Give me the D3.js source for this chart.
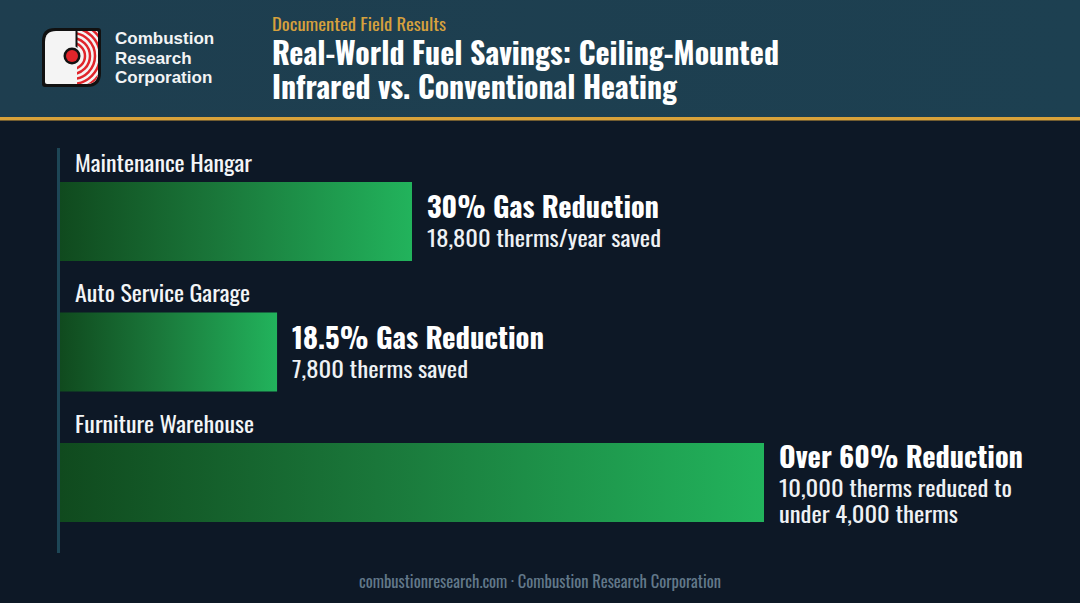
<!DOCTYPE html>
<html><head><meta charset="utf-8">
<script src="https://cdn.jsdelivr.net/npm/d3@7"></script>
<style>
html,body{margin:0;padding:0;background:#0d1826;}
svg{display:block;}
</style></head>
<body>
<svg id="chart" width="1080" height="603"></svg>
<script>
// ---- data ----
const categories = ["Maintenance Hangar", "Auto Service Garage", "Furniture Warehouse"];
const reductionPct = [30, 18.5, 60];
const headlines = ["30% Gas Reduction", "18.5% Gas Reduction", "Over 60% Reduction"];
const details = [
  ["18,800 therms/year saved"],
  ["7,800 therms saved"],
  ["10,000 therms reduced to", "under 4,000 therms"]
];
const companyLines = ["Combustion", "Research", "Corporation"];
const kicker = "Documented Field Results";
const titleLines = ["Real-World Fuel Savings: Ceiling-Mounted", "Infrared vs. Conventional Heating"];
const footer = "combustionresearch.com \u00b7 Combustion Research Corporation";

// ---- layout ----
const W = 1080, H = 603;
const COND = "Oswald, 'Liberation Sans Narrow', 'Roboto Condensed', 'DejaVu Sans Condensed', sans-serif";
const svg = d3.select("#chart");
const defs = svg.append("defs");

const grad = defs.append("linearGradient").attr("id", "barGrad")
  .attr("x1", "0%").attr("x2", "100%").attr("y1", "0%").attr("y2", "0%");
grad.append("stop").attr("offset", "0%").attr("stop-color", "#104a1e");
grad.append("stop").attr("offset", "45%").attr("stop-color", "#1a773a");
grad.append("stop").attr("offset", "100%").attr("stop-color", "#22b35c");

const hdrGrad = defs.append("linearGradient").attr("id", "hdrGrad")
  .attr("x1", "0%").attr("x2", "100%");
hdrGrad.append("stop").attr("offset", "0%").attr("stop-color", "#1e3e4f");
hdrGrad.append("stop").attr("offset", "100%").attr("stop-color", "#1d4051");

// background
svg.append("rect").attr("width", W).attr("height", H).attr("fill", "#0d1826");
svg.append("rect").attr("width", W).attr("height", 117).attr("fill", "url(#hdrGrad)");
svg.append("rect").attr("y", 117).attr("width", W).attr("height", 3.5).attr("fill", "#d9a23a");

// helper: fit text to a width by compressing glyphs
function fit(sel, width) {
  sel.each(function () {
    const w = this.getComputedTextLength();
    if (Math.abs(w - width) > 1) {
      d3.select(this).attr("textLength", width).attr("lengthAdjust", "spacingAndGlyphs");
    }
  });
  return sel;
}

// ---- logo ----
const logo = svg.append("g").attr("transform", "translate(42,28)");
const outerPath = "M13,0 H56 Q59,0 59,3 V45 Q59,59 45,59 H3 Q0,59 0,56 V13 Q0,0 13,0 Z";
const innerPath = "M14,3 H54 Q56,3 56,5 V44 Q56,56 44,56 H5 Q3,56 3,54 V14 Q3,3 14,3 Z";
logo.append("path").attr("d", outerPath).attr("fill", "#111");
const clip = defs.append("clipPath").attr("id", "logoClip");
clip.append("path").attr("d", innerPath);
const clipR = defs.append("clipPath").attr("id", "logoClipR");
clipR.append("rect").attr("x", 35).attr("y", 0).attr("width", 30).attr("height", 60);
logo.append("path").attr("d", innerPath).attr("fill", "#f4f4f4");
const arcs = logo.append("g").attr("clip-path", "url(#logoClip)")
  .append("g").attr("clip-path", "url(#logoClipR)");
arcs.append("rect").attr("x", 35).attr("y", 0).attr("width", 30).attr("height", 60).attr("fill", "#f4f4f4");
d3.range(13, 60, 5).forEach(r => {
  arcs.append("circle").attr("cx", 30).attr("cy", 28).attr("r", r)
    .attr("fill", "none").attr("stroke", "#e0252b").attr("stroke-width", 2.5);
});
logo.append("rect").attr("x", 33.5).attr("y", 3).attr("width", 2).attr("height", 18).attr("fill", "#111");
logo.append("circle").attr("cx", 30).attr("cy", 28).attr("r", 10).attr("fill", "#f4f4f4");
logo.append("circle").attr("cx", 30).attr("cy", 28).attr("r", 8.5).attr("fill", "#111");
logo.append("circle").attr("cx", 30).attr("cy", 28).attr("r", 6).attr("fill", "#e0252b");

svg.append("g").selectAll("text").data(companyLines).join("text")
  .attr("x", 115).attr("y", (d, i) => 44 + i * 19.5)
  .attr("font-family", "'Liberation Sans', Arial, sans-serif")
  .attr("font-weight", "bold").attr("font-size", 17).attr("fill", "#f2f4f5")
  .text(d => d);

// ---- titles ----
fit(svg.append("text").attr("x", 272).attr("y", 31)
  .attr("font-family", COND).attr("font-size", 17).attr("fill", "#d6a13d")
  .text(kicker), 174);
const titleWidths = [507, 405];
svg.append("g").selectAll("text").data(titleLines).join("text")
  .attr("x", 272).attr("y", (d, i) => 65 + i * 34)
  .attr("font-family", COND).attr("font-weight", "bold").attr("font-size", 30)
  .attr("fill", "#ffffff").text(d => d)
  .call(s => s.each(function (d, i) { fit(d3.select(this), titleWidths[i]); }));

// ---- scales ----
const x = d3.scaleLinear().domain([0, 60]).range([60, 764]);
const y = d3.scaleBand().domain(categories).range([182, 522]).paddingInner(0.3946).paddingOuter(0);

// axis line
svg.append("rect").attr("x", 57).attr("y", 148).attr("width", 3).attr("height", 405).attr("fill", "#1d4656");

const rows = svg.append("g").selectAll("g").data(categories).join("g");

const catWidths = [177, 175, 179];
rows.append("text")
  .attr("x", 75).attr("y", d => y(d) - 10)
  .attr("font-family", COND).attr("font-size", 22).attr("fill", "#f3f5f7")
  .text(d => d)
  .each(function (d, i) { fit(d3.select(this), catWidths[i]); });

rows.append("rect")
  .attr("x", x(0)).attr("y", d => y(d))
  .attr("width", (d, i) => x(reductionPct[i]) - x(0))
  .attr("height", y.bandwidth())
  .attr("fill", "url(#barGrad)");

const headWidths = [232, 252, 244];
rows.append("text")
  .attr("x", (d, i) => x(reductionPct[i]) + 15)
  .attr("y", (d, i) => y(d) + y.bandwidth() / 2 - 3.5 - (details[i].length - 1) * 11)
  .attr("font-family", COND).attr("font-weight", "bold").attr("font-size", 29)
  .attr("fill", "#ffffff").text((d, i) => headlines[i])
  .each(function (d, i) { fit(d3.select(this), headWidths[i]); });

const detWidths = [[234], [176], [233, 179]];
rows.each(function (d, i) {
  const g = d3.select(this);
  const headY = y(d) + y.bandwidth() / 2 - 3.5 - (details[i].length - 1) * 11;
  g.selectAll("text.det").data(details[i]).join("text").attr("class", "det")
    .attr("x", x(reductionPct[i]) + 15)
    .attr("y", (t, j) => headY + 29 + j * 26)
    .attr("font-family", COND).attr("font-size", 22).attr("fill", "#eef1f4")
    .text(t => t)
    .each(function (t, j) { fit(d3.select(this), detWidths[i][j]); });
});

// ---- footer ----
fit(svg.append("text").attr("x", 359).attr("y", 588)
  .attr("font-family", COND).attr("font-size", 16).attr("fill", "#62788a")
  .text(footer), 362);
</script>
</body></html>
